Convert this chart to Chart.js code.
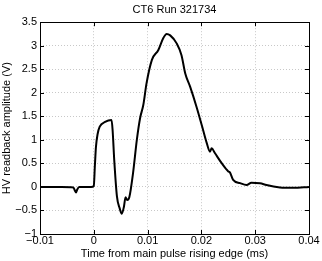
<!DOCTYPE html>
<html>
<head>
<meta charset="utf-8">
<script src="https://cdn.jsdelivr.net/npm/chart.js@4"></script>
<style>
  html, body { margin: 0; padding: 0; background: #fff; }
  canvas { display: block; }
</style>
</head>
<body>
<canvas id="hvChart" width="322" height="261"></canvas>
<script>
// readback waveform
const timeMs = [-0.01, -0.006, -0.0038, -0.0035, -0.0033, -0.0031, -0.0027, -0.0005, 0.0, 0.0002, 0.0004,
    0.0007, 0.0011, 0.0021, 0.0033, 0.0035, 0.0038, 0.0043, 0.0048, 0.0052, 0.0056, 0.0059, 0.0062,
    0.0066, 0.0073, 0.0080, 0.0086, 0.0092, 0.0098, 0.0108, 0.0120, 0.0129, 0.01355, 0.0142, 0.0154,
    0.0163, 0.0170, 0.0179, 0.0191, 0.0201, 0.0210, 0.0216, 0.0219, 0.0225, 0.0238, 0.0250, 0.0253,
    0.0259, 0.0272, 0.0284, 0.0293, 0.0309, 0.0321, 0.0346, 0.0371, 0.04];
const hvVolts = [0.0, 0.0, -0.01, -0.08, -0.12, -0.06, 0.0, 0.0, 0.02, 0.45, 0.85,
    1.12, 1.28, 1.38, 1.42, 1.2, 0.57, -0.2, -0.45, -0.57, -0.42, -0.22, -0.28,
    -0.22, 0.3, 1.0, 1.46, 1.74, 2.2, 2.7, 2.91, 3.16, 3.25, 3.22, 3.05,
    2.80, 2.41, 2.13, 1.70, 1.30, 0.93, 0.75, 0.82, 0.72, 0.5, 0.33, 0.31,
    0.15, 0.08, 0.04, 0.09, 0.08, 0.04, -0.01, -0.02, 0.0];
const xTicks = [-0.01, 0, 0.01, 0.02, 0.03, 0.04];
const yTicks = [-1, -0.5, 0, 0.5, 1, 1.5, 2, 2.5, 3, 3.5];

const FONT = 'Liberation Sans, Arial, Helvetica, sans-serif';

function fmt(v) {
    const s = String(Math.round(v * 1000) / 1000);
    return s.replace('-', '\u2212');
}

// MATLAB style inward ticks on all four sides
const innerTicks = {
    id: 'innerTicks',
    afterDraw(chart) {
        const { ctx, chartArea: a, scales } = chart;
        ctx.save();
        ctx.strokeStyle = '#000';
        ctx.lineWidth = 1;
        ctx.beginPath();
        xTicks.forEach(v => {
            const px = Math.round(scales.x.getPixelForValue(v)) + 0.5;
            ctx.moveTo(px, a.bottom); ctx.lineTo(px, a.bottom - 4);
            ctx.moveTo(px, a.top); ctx.lineTo(px, a.top + 4);
        });
        yTicks.forEach(v => {
            const py = Math.round(scales.y.getPixelForValue(v)) + 0.5;
            ctx.moveTo(a.left, py); ctx.lineTo(a.left + 4, py);
            ctx.moveTo(a.right, py); ctx.lineTo(a.right - 4, py);
        });
        ctx.stroke();
        ctx.strokeRect(Math.round(a.left) + 0.5, Math.round(a.top) + 0.5,
            Math.round(a.right - a.left), Math.round(a.bottom - a.top));
        ctx.restore();
    }
};

new Chart(document.getElementById('hvChart'), {
    type: 'line',
    data: {
        datasets: [{
            data: timeMs.map((t, i) => ({ x: t, y: hvVolts[i] })),
            borderColor: '#000',
            borderWidth: 2,
            pointRadius: 0,
            fill: false,
            cubicInterpolationMode: 'monotone'
        }]
    },
    options: {
        responsive: false,
        animation: false,
        layout: { padding: { left: 0, right: 13, top: 0, bottom: 0 } },
        plugins: {
            legend: { display: false },
            tooltip: { enabled: false },
            title: {
                display: true,
                fullSize: false,
                text: 'CT6 Run 321734',
                color: '#000',
                font: { family: FONT, size: 11, weight: 'normal' },
                padding: { top: 3, bottom: 6 }
            }
        },
        scales: {
            x: {
                type: 'linear',
                min: -0.01,
                max: 0.04,
                afterBuildTicks: s => { s.ticks = xTicks.map(v => ({ value: v })); },
                afterFit: s => { s.height = 27; },
                ticks: {
                    color: '#000',
                    font: { family: FONT, size: 11 },
                    padding: 0,
                    maxRotation: 0,
                    callback: v => fmt(v)
                },
                grid: { color: '#c8c8c8', tickLength: 0, drawTicks: false, lineWidth: 1 },
                border: { display: false, dash: [1, 2] },
                title: {
                    display: true,
                    text: 'Time from main pulse rising edge (ms)',
                    color: '#000',
                    font: { family: FONT, size: 11 },
                    padding: { top: 0, bottom: 0 }
                }
            },
            y: {
                min: -1,
                max: 3.5,
                afterBuildTicks: s => { s.ticks = yTicks.map(v => ({ value: v })); },
                afterFit: s => { s.width = 40; },
                ticks: {
                    color: '#000',
                    font: { family: FONT, size: 11 },
                    padding: 3,
                    callback: v => fmt(v)
                },
                grid: { color: '#c8c8c8', drawTicks: false, lineWidth: 1 },
                border: { display: false, dash: [1, 2] },
                title: {
                    display: true,
                    text: 'HV readback amplitude (V)',
                    color: '#000',
                    font: { family: FONT, size: 11 },
                    padding: { top: 0, bottom: 0 }
                }
            }
        }
    },
    plugins: [innerTicks]
});
</script>
</body>
</html>
